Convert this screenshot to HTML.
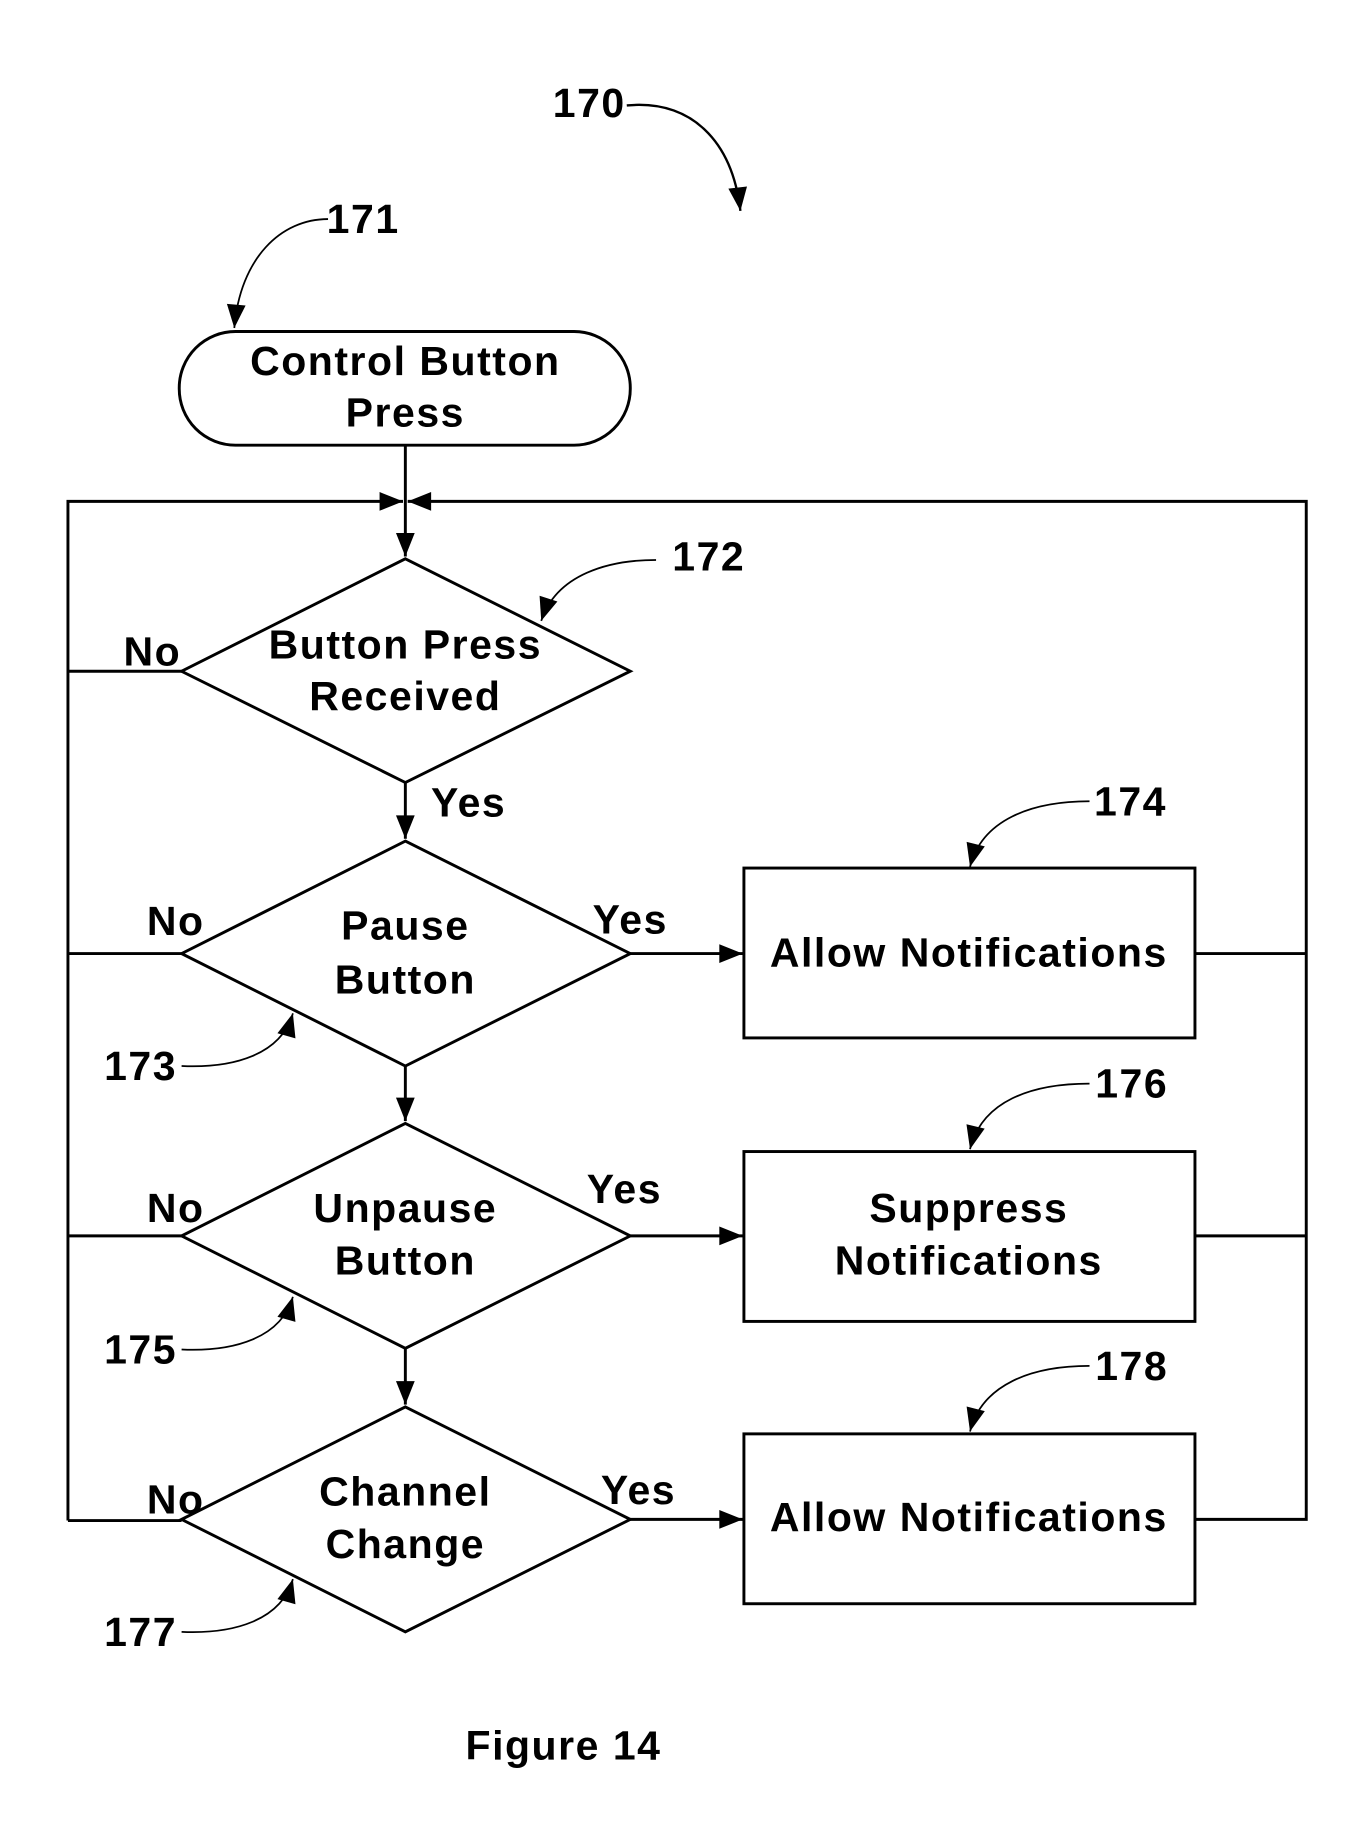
<!DOCTYPE html>
<html><head><meta charset="utf-8"><style>
html,body{margin:0;padding:0;background:#fff;}
svg{display:block;}
text{font-family:"Liberation Sans",Arial,sans-serif;font-weight:bold;fill:#000;letter-spacing:1.3px;}
</style></head><body>
<svg width="1366" height="1831" viewBox="0 0 1166 1563" preserveAspectRatio="none">
<defs>
<marker id="b" viewBox="0 0 10 10" refX="10" refY="5" markerWidth="28" markerHeight="20" markerUnits="userSpaceOnUse" orient="auto">
<path d="M0,1 L10,5 L0,9 z" fill="#000"/></marker>
</defs>
<g stroke="#000" stroke-width="2.5" fill="none">
<path d="M535,90 C590,85 625,120 632,180" marker-end="url(#b)" stroke-width="2"/>
<path d="M280,187 C240,187 205,220 200,280" marker-end="url(#b)" stroke-width="1.5"/>
<path d="M560,478 C520,478 475,490 462,530" marker-end="url(#b)" stroke-width="1.5"/>
<path d="M930,684 C880,684 838,700 828,740" marker-end="url(#b)" stroke-width="1.5"/>
<path d="M930,925 C880,925 838,940 828,981" marker-end="url(#b)" stroke-width="1.5"/>
<path d="M930,1166 C880,1166 838,1182 828,1222" marker-end="url(#b)" stroke-width="1.5"/>
<path d="M155,910 C200,912 240,900 250,865" marker-end="url(#b)" stroke-width="1.5"/>
<path d="M155,1152 C200,1154 240,1142 250,1107" marker-end="url(#b)" stroke-width="1.5"/>
<path d="M155,1393 C200,1395 240,1383 250,1348" marker-end="url(#b)" stroke-width="1.5"/>

<rect x="153" y="283" width="385" height="97" rx="48" ry="48"/>
<path d="M346,380 V475" marker-end="url(#b)"/>
<path d="M58,1298 V428 H344" marker-end="url(#b)"/>
<path d="M1020,1297 H1115 V428 H348" marker-end="url(#b)"/>
<path d="M1020,814 H1115 M1020,1055 H1115"/>

<polygon points="346,477 538,573 346,668 155,573"/>
<path d="M58,573 H155"/>
<path d="M346,668 V716" marker-end="url(#b)"/>

<polygon points="346,718 538,814 346,910 155,814"/>
<path d="M58,814 H155"/>
<path d="M538,814 H634" marker-end="url(#b)"/>
<rect x="635" y="741" width="385" height="145"/>
<path d="M346,910 V957" marker-end="url(#b)"/>

<polygon points="346,959 538,1055 346,1151 155,1055"/>
<path d="M58,1055 H155"/>
<path d="M538,1055 H634" marker-end="url(#b)"/>
<rect x="635" y="983" width="385" height="145"/>
<path d="M346,1151 V1199" marker-end="url(#b)"/>

<polygon points="346,1201 538,1297 346,1393 155,1297"/>
<path d="M58,1298 H155"/>
<path d="M538,1297 H634" marker-end="url(#b)"/>
<rect x="635" y="1224" width="385" height="145"/>
</g>
<g font-size="35" text-anchor="middle">
<text x="503" y="100">170</text>
<text x="310" y="199">171</text>
<text x="605" y="487">172</text>
<text x="965" y="696">174</text>
<text x="966" y="937">176</text>
<text x="966" y="1178">178</text>
<text x="120" y="922">173</text>
<text x="120" y="1164">175</text>
<text x="120" y="1405">177</text>
<text x="346" y="320">Control Button</text>
<text x="346" y="364">Press</text>
<text x="346" y="562">Button Press</text>
<text x="346" y="606">Received</text>
<text x="346" y="802">Pause</text>
<text x="346" y="848">Button</text>
<text x="346" y="1043">Unpause</text>
<text x="346" y="1088">Button</text>
<text x="346" y="1285">Channel</text>
<text x="346" y="1330">Change</text>
<text x="827" y="825">Allow Notifications</text>
<text x="827" y="1043">Suppress</text>
<text x="827" y="1088">Notifications</text>
<text x="827" y="1307">Allow Notifications</text>
<text x="130" y="568">No</text>
<text x="150" y="798">No</text>
<text x="150" y="1043">No</text>
<text x="150" y="1292">No</text>
<text x="400" y="697">Yes</text>
<text x="538" y="797">Yes</text>
<text x="533" y="1027">Yes</text>
<text x="545" y="1284">Yes</text>
<text x="481" y="1502">Figure 14</text>
</g>
</svg>
</body></html>
